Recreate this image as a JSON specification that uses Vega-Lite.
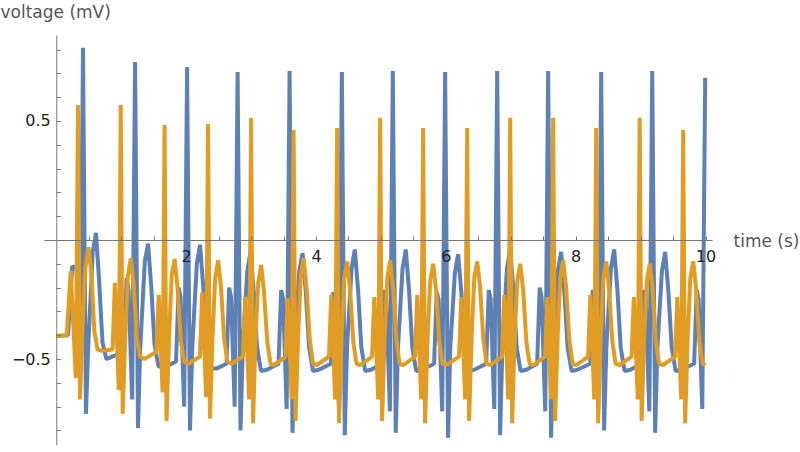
{
"$schema": "https://vega.github.io/schema/vega-lite/v6.json",
"width": 668, "height": 410,
"autosize": {"type": "none"},
"padding": {"left": 44, "top": 35, "right": 88, "bottom": 7},
"background": "white",
"config": {"view": {"stroke": null}, "axis": {"grid": false, "labelOverlap": false, "labelFlush": false}},
"datasets": {
"blue": [
{"t":0,"v":-0.403},{"t":0.18,"v":-0.4},{"t":0.245,"v":-0.11},{"t":0.31,"v":-0.12},{"t":0.37,"v":-0.45},{"t":0.411,"v":0.807},
{"t":0.456,"v":-0.73},{"t":0.491,"v":-0.45},{"t":0.561,"v":-0.05},{"t":0.611,"v":0.03},{"t":0.661,"v":-0.18},{"t":0.711,"v":-0.43},{"t":0.771,"v":-0.5},{"t":0.861,"v":-0.49},
{"t":1.043,"v":-0.47},{"t":1.083,"v":-0.16},{"t":1.113,"v":-0.21},{"t":1.168,"v":-0.67},{"t":1.213,"v":0.748},
{"t":1.258,"v":-0.79},{"t":1.293,"v":-0.45},{"t":1.363,"v":-0.09},{"t":1.413,"v":-0.015},{"t":1.463,"v":-0.2},{"t":1.513,"v":-0.44},{"t":1.573,"v":-0.53},{"t":1.663,"v":-0.535},
{"t":1.844,"v":-0.51},{"t":1.884,"v":-0.2},{"t":1.914,"v":-0.24},{"t":1.969,"v":-0.7},{"t":2.014,"v":0.727},
{"t":2.059,"v":-0.8},{"t":2.094,"v":-0.45},{"t":2.164,"v":-0.1},{"t":2.214,"v":-0.02},{"t":2.264,"v":-0.2},{"t":2.314,"v":-0.44},{"t":2.374,"v":-0.54},{"t":2.464,"v":-0.54},
{"t":2.622,"v":-0.52},{"t":2.662,"v":-0.2},{"t":2.692,"v":-0.24},{"t":2.747,"v":-0.7},{"t":2.792,"v":0.706},
{"t":2.837,"v":-0.8},{"t":2.872,"v":-0.45},{"t":2.942,"v":-0.13},{"t":2.992,"v":-0.05},{"t":3.042,"v":-0.22},{"t":3.092,"v":-0.45},{"t":3.152,"v":-0.55},{"t":3.242,"v":-0.545},
{"t":3.423,"v":-0.52},{"t":3.463,"v":-0.21},{"t":3.493,"v":-0.25},{"t":3.548,"v":-0.71},{"t":3.593,"v":0.71},
{"t":3.638,"v":-0.81},{"t":3.673,"v":-0.45},{"t":3.743,"v":-0.13},{"t":3.793,"v":-0.055},{"t":3.843,"v":-0.22},{"t":3.893,"v":-0.45},{"t":3.953,"v":-0.55},{"t":4.043,"v":-0.545},
{"t":4.228,"v":-0.52},{"t":4.268,"v":-0.22},{"t":4.298,"v":-0.25},{"t":4.353,"v":-0.71},{"t":4.398,"v":0.706},
{"t":4.443,"v":-0.82},{"t":4.478,"v":-0.45},{"t":4.548,"v":-0.12},{"t":4.598,"v":-0.04},{"t":4.648,"v":-0.21},{"t":4.698,"v":-0.45},{"t":4.758,"v":-0.55},{"t":4.848,"v":-0.545},
{"t":5.013,"v":-0.52},{"t":5.053,"v":-0.21},{"t":5.083,"v":-0.25},{"t":5.138,"v":-0.72},{"t":5.183,"v":0.71},
{"t":5.228,"v":-0.81},{"t":5.263,"v":-0.45},{"t":5.333,"v":-0.12},{"t":5.383,"v":-0.04},{"t":5.433,"v":-0.21},{"t":5.483,"v":-0.45},{"t":5.543,"v":-0.55},{"t":5.633,"v":-0.545},
{"t":5.819,"v":-0.52},{"t":5.859,"v":-0.22},{"t":5.889,"v":-0.25},{"t":5.944,"v":-0.72},{"t":5.989,"v":0.706},
{"t":6.034,"v":-0.83},{"t":6.069,"v":-0.45},{"t":6.139,"v":-0.14},{"t":6.189,"v":-0.06},{"t":6.239,"v":-0.22},{"t":6.289,"v":-0.45},{"t":6.349,"v":-0.55},{"t":6.439,"v":-0.545},
{"t":6.621,"v":-0.52},{"t":6.661,"v":-0.21},{"t":6.691,"v":-0.25},{"t":6.746,"v":-0.71},{"t":6.791,"v":0.71},
{"t":6.836,"v":-0.82},{"t":6.871,"v":-0.45},{"t":6.941,"v":-0.12},{"t":6.991,"v":-0.04},{"t":7.041,"v":-0.21},{"t":7.091,"v":-0.45},{"t":7.151,"v":-0.55},{"t":7.241,"v":-0.545},
{"t":7.406,"v":-0.52},{"t":7.446,"v":-0.2},{"t":7.476,"v":-0.24},{"t":7.531,"v":-0.72},{"t":7.576,"v":0.71},
{"t":7.621,"v":-0.83},{"t":7.656,"v":-0.45},{"t":7.726,"v":-0.13},{"t":7.776,"v":-0.05},{"t":7.826,"v":-0.22},{"t":7.876,"v":-0.45},{"t":7.936,"v":-0.55},{"t":8.026,"v":-0.545},
{"t":8.223,"v":-0.52},{"t":8.263,"v":-0.21},{"t":8.293,"v":-0.25},{"t":8.348,"v":-0.71},{"t":8.393,"v":0.706},
{"t":8.438,"v":-0.8},{"t":8.473,"v":-0.45},{"t":8.543,"v":-0.12},{"t":8.593,"v":-0.04},{"t":8.643,"v":-0.21},{"t":8.693,"v":-0.45},{"t":8.753,"v":-0.55},{"t":8.843,"v":-0.545},
{"t":9.009,"v":-0.52},{"t":9.049,"v":-0.21},{"t":9.079,"v":-0.25},{"t":9.134,"v":-0.72},{"t":9.179,"v":0.71},
{"t":9.224,"v":-0.81},{"t":9.259,"v":-0.45},{"t":9.329,"v":-0.13},{"t":9.379,"v":-0.05},{"t":9.429,"v":-0.22},{"t":9.479,"v":-0.45},{"t":9.539,"v":-0.55},{"t":9.629,"v":-0.545},
{"t":9.825,"v":-0.52},{"t":9.865,"v":-0.21},{"t":9.895,"v":-0.25},{"t":9.95,"v":-0.71},{"t":9.995,"v":0.681}
],
"orange": [
{"t":0,"v":-0.403},{"t":0.16,"v":-0.4},{"t":0.222,"v":-0.13},{"t":0.3,"v":-0.58},{"t":0.334,"v":0.567},
{"t":0.365,"v":-0.67},{"t":0.4,"v":-0.38},{"t":0.445,"v":-0.12},{"t":0.495,"v":-0.03},{"t":0.54,"v":-0.14},{"t":0.585,"v":-0.38},{"t":0.635,"v":-0.46},{"t":0.7,"v":-0.465},
{"t":0.867,"v":-0.46},{"t":0.902,"v":-0.18},{"t":0.962,"v":-0.63},{"t":0.992,"v":0.567},
{"t":1.022,"v":-0.73},{"t":1.062,"v":-0.4},{"t":1.102,"v":-0.15},{"t":1.147,"v":-0.076},{"t":1.192,"v":-0.19},{"t":1.242,"v":-0.42},{"t":1.292,"v":-0.49},{"t":1.352,"v":-0.5},
{"t":1.542,"v":-0.47},{"t":1.577,"v":-0.23},{"t":1.637,"v":-0.64},{"t":1.667,"v":0.483},
{"t":1.697,"v":-0.76},{"t":1.737,"v":-0.4},{"t":1.777,"v":-0.15},{"t":1.822,"v":-0.08},{"t":1.867,"v":-0.2},{"t":1.917,"v":-0.42},{"t":1.967,"v":-0.51},{"t":2.027,"v":-0.52},
{"t":2.212,"v":-0.49},{"t":2.247,"v":-0.22},{"t":2.307,"v":-0.66},{"t":2.337,"v":0.487},
{"t":2.367,"v":-0.75},{"t":2.407,"v":-0.4},{"t":2.447,"v":-0.16},{"t":2.492,"v":-0.085},{"t":2.537,"v":-0.2},{"t":2.587,"v":-0.42},{"t":2.637,"v":-0.51},{"t":2.697,"v":-0.52},
{"t":2.875,"v":-0.49},{"t":2.91,"v":-0.24},{"t":2.97,"v":-0.67},{"t":3.0,"v":0.513},
{"t":3.03,"v":-0.77},{"t":3.07,"v":-0.4},{"t":3.11,"v":-0.18},{"t":3.155,"v":-0.105},{"t":3.2,"v":-0.22},{"t":3.25,"v":-0.43},{"t":3.3,"v":-0.52},{"t":3.36,"v":-0.525},
{"t":3.53,"v":-0.49},{"t":3.565,"v":-0.245},{"t":3.625,"v":-0.67},{"t":3.655,"v":0.462},
{"t":3.685,"v":-0.76},{"t":3.725,"v":-0.4},{"t":3.765,"v":-0.15},{"t":3.81,"v":-0.076},{"t":3.855,"v":-0.2},{"t":3.905,"v":-0.42},{"t":3.955,"v":-0.52},{"t":4.015,"v":-0.525},
{"t":4.2,"v":-0.49},{"t":4.235,"v":-0.23},{"t":4.295,"v":-0.67},{"t":4.325,"v":0.47},
{"t":4.355,"v":-0.77},{"t":4.395,"v":-0.4},{"t":4.435,"v":-0.16},{"t":4.48,"v":-0.09},{"t":4.525,"v":-0.21},{"t":4.575,"v":-0.43},{"t":4.625,"v":-0.52},{"t":4.685,"v":-0.525},
{"t":4.863,"v":-0.49},{"t":4.898,"v":-0.24},{"t":4.958,"v":-0.67},{"t":4.988,"v":0.513},
{"t":5.018,"v":-0.76},{"t":5.058,"v":-0.4},{"t":5.098,"v":-0.16},{"t":5.143,"v":-0.085},{"t":5.188,"v":-0.2},{"t":5.238,"v":-0.42},{"t":5.288,"v":-0.52},{"t":5.348,"v":-0.525},
{"t":5.525,"v":-0.49},{"t":5.56,"v":-0.23},{"t":5.62,"v":-0.67},{"t":5.65,"v":0.47},
{"t":5.68,"v":-0.77},{"t":5.72,"v":-0.4},{"t":5.76,"v":-0.17},{"t":5.805,"v":-0.1},{"t":5.85,"v":-0.21},{"t":5.9,"v":-0.43},{"t":5.95,"v":-0.52},{"t":6.01,"v":-0.525},
{"t":6.203,"v":-0.49},{"t":6.238,"v":-0.24},{"t":6.298,"v":-0.67},{"t":6.328,"v":0.47},
{"t":6.358,"v":-0.76},{"t":6.398,"v":-0.4},{"t":6.438,"v":-0.16},{"t":6.483,"v":-0.09},{"t":6.528,"v":-0.2},{"t":6.578,"v":-0.42},{"t":6.628,"v":-0.52},{"t":6.688,"v":-0.525},
{"t":6.866,"v":-0.49},{"t":6.901,"v":-0.23},{"t":6.961,"v":-0.67},{"t":6.991,"v":0.513},
{"t":7.021,"v":-0.77},{"t":7.061,"v":-0.4},{"t":7.101,"v":-0.17},{"t":7.146,"v":-0.1},{"t":7.191,"v":-0.21},{"t":7.241,"v":-0.43},{"t":7.291,"v":-0.52},{"t":7.351,"v":-0.525},
{"t":7.528,"v":-0.49},{"t":7.563,"v":-0.24},{"t":7.623,"v":-0.67},{"t":7.653,"v":0.513},
{"t":7.683,"v":-0.76},{"t":7.723,"v":-0.4},{"t":7.763,"v":-0.16},{"t":7.808,"v":-0.085},{"t":7.853,"v":-0.2},{"t":7.903,"v":-0.42},{"t":7.953,"v":-0.52},{"t":8.013,"v":-0.525},
{"t":8.191,"v":-0.49},{"t":8.226,"v":-0.23},{"t":8.286,"v":-0.67},{"t":8.316,"v":0.47},
{"t":8.346,"v":-0.77},{"t":8.386,"v":-0.4},{"t":8.426,"v":-0.16},{"t":8.471,"v":-0.09},{"t":8.516,"v":-0.21},{"t":8.566,"v":-0.43},{"t":8.616,"v":-0.52},{"t":8.676,"v":-0.525},
{"t":8.861,"v":-0.49},{"t":8.896,"v":-0.24},{"t":8.956,"v":-0.67},{"t":8.986,"v":0.513},
{"t":9.016,"v":-0.76},{"t":9.056,"v":-0.4},{"t":9.096,"v":-0.17},{"t":9.141,"v":-0.1},{"t":9.186,"v":-0.21},{"t":9.236,"v":-0.43},{"t":9.286,"v":-0.52},{"t":9.346,"v":-0.525},
{"t":9.531,"v":-0.49},{"t":9.566,"v":-0.24},{"t":9.626,"v":-0.67},{"t":9.656,"v":0.462},
{"t":9.686,"v":-0.77},{"t":9.726,"v":-0.4},{"t":9.766,"v":-0.16},{"t":9.811,"v":-0.09},{"t":9.856,"v":-0.21},{"t":9.906,"v":-0.43},{"t":9.956,"v":-0.52},{"t":10.0,"v":-0.525}
]
},
"layer": [
{
"data": {"name": "blue"},
"mark": {"type": "line", "color": "#5E81B5", "strokeWidth": 4, "strokeJoin": "bevel", "clip": true},
"encoding": {
"x": {"field": "t", "type": "quantitative",
"scale": {"domain": [-0.19, 10.1], "nice": false, "zero": false},
"axis": {"orient": "bottom", "offset": -205, "tickCount": 100, "zindex": 1,
"values": [0.5,1,1.5,2,2.5,3,3.5,4,4.5,5,5.5,6,6.5,7,7.5,8,8.5,9,9.5,10],
"labelExpr": "(datum.value == 2 || datum.value == 4 || datum.value == 6 || datum.value == 8 || datum.value == 10) ? format(datum.value, 'd') : ''",
"tickSize": -4, "tickColor": "#777", "tickWidth": 1, "domainColor": "#777", "domainWidth": 1,
"labelPadding": 12, "labelFont": "DejaVu Sans", "labelFontSize": 16, "labelColor": "#222",
"labelFlush": false, "labelOverlap": false,
"title": "time (s)", "titleFont": "DejaVu Sans", "titleFontSize": 17, "titleFontWeight": "normal", "titleColor": "#555",
"titleAngle": 0, "titleAlign": "left", "titleBaseline": "alphabetic", "titleX": 689, "titleY": 6}},
"y": {"field": "v", "type": "quantitative",
"scale": {"domain": [-0.861, 0.861], "nice": false, "zero": false},
"axis": {"orient": "left", "offset": -12.3, "tickCount": 100, "zindex": 1,
"values": [-0.8,-0.7,-0.6,-0.5,-0.4,-0.3,-0.2,-0.1,0.1,0.2,0.3,0.4,0.5,0.6,0.7,0.8],
"labelExpr": "datum.value == 0.5 ? '0.5' : (datum.value == -0.5 ? '−0.5' : '')",
"tickSize": -4, "tickColor": "#777", "tickWidth": 1, "domainColor": "#777", "domainWidth": 1,
"labelPadding": 10, "labelFont": "DejaVu Sans", "labelFontSize": 16, "labelColor": "#222",
"labelFlush": false, "labelOverlap": false,
"title": "voltage (mV)", "titleFont": "DejaVu Sans", "titleFontSize": 17, "titleFontWeight": "normal", "titleColor": "#555",
"titleAngle": 0, "titleAlign": "left", "titleBaseline": "alphabetic", "titleX": -56.3, "titleY": -18}}
}
},
{
"data": {"name": "orange"},
"mark": {"type": "line", "color": "#E19C24", "strokeWidth": 4, "strokeJoin": "bevel", "clip": true},
"encoding": {
"x": {"field": "t", "type": "quantitative"},
"y": {"field": "v", "type": "quantitative"}
}
}
]
}
